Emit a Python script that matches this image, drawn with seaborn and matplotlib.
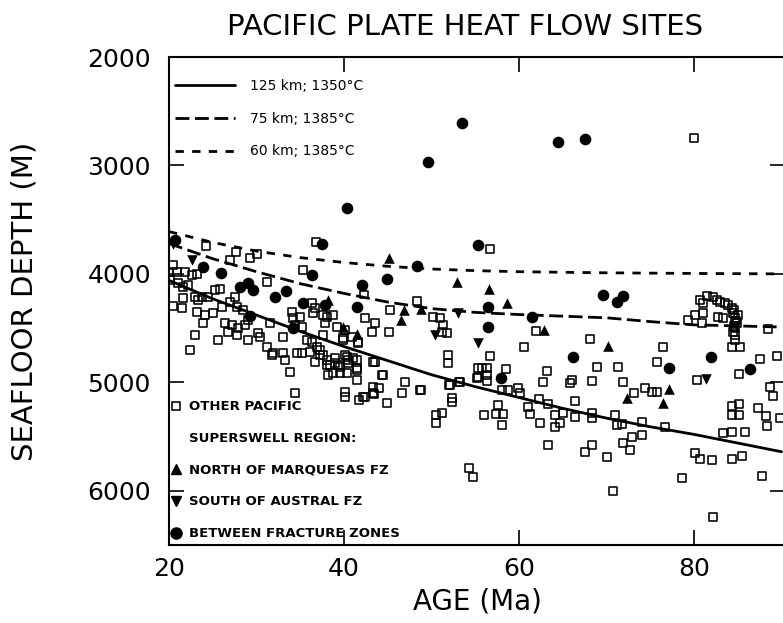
import numpy as np
import pandas as pd
import matplotlib
matplotlib.use("Agg")
import matplotlib.pyplot as plt
from matplotlib.lines import Line2D
import seaborn as sns

# ==========================================
# DATA (age in Ma, depth in m)
# ==========================================

curve_age = [20, 25, 30, 35, 40, 45, 50, 55, 60, 65, 70, 75, 80, 85, 90]
depth_125km = [4060, 4230, 4380, 4530, 4670, 4800, 4930, 5040, 5140, 5240, 5330, 5410, 5480, 5560, 5640]
depth_75km = [3720, 3860, 3980, 4090, 4180, 4260, 4320, 4355, 4375, 4390, 4405, 4440, 4470, 4480, 4490]
depth_60km = [3610, 3710, 3790, 3850, 3895, 3930, 3955, 3970, 3980, 3985, 3990, 3993, 3996, 3998, 4000]

curve_labels = ["125 km; 1350°C", "75 km; 1385°C", "60 km; 1385°C"]

other_young = [
    (80.0, 2750), (56.7, 3770),
    (24.2, 3740), (27.7, 3800), (27.0, 3870), (29.3, 3850), (30.1, 3815), (36.8, 3705), (35.3, 3965),
    (31.2, 4075), (42.3, 4190),
    (20.5, 3920), (20.0, 3980), (20.9, 3980), (21.8, 3980), (22.6, 4010), (23.2, 4000),
    (20.1, 4055), (21.0, 4085), (21.6, 4120), (22.2, 4100), (25.3, 4150), (25.8, 4140),
    (20.5, 4295), (21.5, 4315), (21.6, 4220), (23.0, 4215), (23.3, 4240), (23.8, 4215), (24.5, 4215),
    (23.2, 4350), (24.1, 4380), (25.0, 4360), (23.9, 4450), (23.0, 4565), (22.4, 4700), (25.6, 4610),
    (26.1, 4305), (27.0, 4260), (27.5, 4215), (27.8, 4305),
    (26.4, 4450), (27.2, 4470), (27.9, 4500), (28.7, 4470), (29.0, 4425), (28.5, 4330),
    (26.7, 4535), (27.8, 4565),
    (29.0, 4610), (30.2, 4545), (30.4, 4580), (31.2, 4675), (31.9, 4730), (31.8, 4750), (33.0, 4730),
    (33.3, 4795), (33.8, 4905), (34.4, 5100),
    (31.5, 4450), (33.0, 4580),
    (34.1, 4350), (34.2, 4405), (35.0, 4395), (34.4, 4470), (35.2, 4490),
    (34.6, 4730), (35.2, 4730), (36.1, 4720),
]

other_middle = [
    (35.8, 4610), (36.3, 4625), (36.9, 4675), (37.3, 4700), (37.6, 4750), (36.7, 4810), (38.1, 4795),
    (38.4, 4840), (39.0, 4820), (38.7, 4915), (39.5, 4860), (40.3, 4765), (41.0, 4775), (41.6, 4625),
    (39.9, 4610), (40.5, 4795), (41.5, 4865),
    (36.3, 4270), (36.7, 4315), (36.5, 4360), (37.6, 4380), (38.1, 4395), (38.7, 4380), (37.8, 4450),
    (39.2, 4490), (37.6, 4565),
    (40.1, 4515), (39.9, 4590), (40.9, 4580), (41.6, 4635),
    (42.4, 4405), (43.5, 4450), (43.2, 4535), (45.1, 4535), (45.3, 4330),
    (43.3, 4810), (44.3, 4930), (43.3, 5040), (47.0, 4995),
    (48.3, 4250), (50.2, 4395), (51.0, 4405), (51.3, 4470), (51.2, 4535), (51.8, 4545),
    (51.9, 4745), (51.9, 4820), (55.2, 4960), (55.3, 4865), (53.3, 4995), (52.1, 5025), (52.3, 5145),
    (48.7, 5070),
    (40.1, 5090), (42.2, 5135), (43.3, 5100),
    (37.3, 4745), (38.1, 4840), (38.2, 4930), (39.0, 4775), (39.3, 4840), (39.5, 4915), (40.3, 4915),
    (40.1, 4745), (40.5, 4820), (41.5, 4795), (41.5, 4885), (41.5, 4980), (40.1, 5135),
    (43.5, 4810), (44.5, 4930), (44.0, 5050), (43.4, 5105), (42.4, 5135), (41.7, 5160), (44.9, 5190),
    (46.6, 5100), (48.8, 5070),
    (52.0, 5025), (53.1, 4995), (52.3, 5180), (51.2, 5280), (50.5, 5300), (50.5, 5375),
    (54.7, 5870), (54.3, 5790),
]

other_old = [
    (56.7, 4755), (55.8, 4865), (56.3, 4865), (56.3, 4930), (55.3, 4950), (56.3, 4985), (58.5, 4875),
    (58.1, 5070), (58.7, 5070), (59.9, 5050), (60.1, 5100),
    (57.6, 5210), (57.4, 5290), (58.2, 5290), (58.1, 5390), (56.0, 5300),
    (61.9, 4525), (60.6, 4675), (68.1, 4600), (76.5, 4675), (75.8, 4810),
    (61.0, 5225), (61.3, 5290), (62.3, 5155), (63.3, 5200), (63.2, 4895), (62.7, 4995),
    (62.4, 5375), (63.3, 5575), (64.1, 5300), (64.7, 5375), (64.1, 5410), (65.0, 5280),
    (65.8, 5005), (66.1, 4980), (66.4, 5170), (66.4, 5320), (68.3, 4985), (68.3, 5280), (68.3, 5330),
    (68.9, 4860), (71.3, 4860), (71.9, 4995), (71.0, 5300), (71.2, 5390), (71.8, 5385), (71.9, 5560),
    (72.9, 5505), (74.1, 5485), (72.7, 5625), (70.1, 5685), (70.7, 6000), (67.5, 5640), (68.3, 5575),
    (74.1, 5365),
    (73.1, 5100), (74.4, 5050), (75.2, 5090), (75.8, 5090),
    (76.7, 5410), (78.6, 5880),
    (80.1, 5650), (80.7, 5705), (82.1, 5715), (84.3, 5705), (85.5, 5680), (82.2, 6240),
    (80.3, 4980),
    (84.3, 5215), (85.1, 5200), (84.3, 5300), (85.1, 5300), (83.3, 5465), (84.3, 5455), (85.8, 5455),
    (85.1, 4920), (87.5, 4785), (89.5, 4755),
    (88.7, 5040), (89.0, 5125), (87.3, 5235), (88.2, 5310), (88.3, 5400), (89.8, 5330), (87.8, 5860),
    (80.7, 4240), (81.5, 4205), (82.2, 4215), (82.6, 4240), (83.0, 4260), (83.5, 4270), (83.9, 4285),
    (84.3, 4315), (84.5, 4360), (84.7, 4405), (84.9, 4450), (84.7, 4500), (84.5, 4535), (84.7, 4565),
    (84.7, 4610), (84.6, 4330), (85.0, 4380), (84.8, 4430), (84.6, 4480),
    (81.0, 4270), (81.0, 4360), (80.1, 4380), (79.3, 4425), (80.9, 4450), (82.7, 4395), (83.3, 4405),
    (88.5, 4505), (84.3, 4675), (85.3, 4675),
]

north_marquesas = [
    (45.1, 3855), (52.9, 4075), (38.2, 4240), (46.9, 4335), (48.8, 4325), (46.5, 4425), (39.9, 4490),
    (41.5, 4555), (56.6, 4140), (58.6, 4270), (62.9, 4515), (70.2, 4665), (72.3, 5145), (77.1, 5060),
    (76.5, 5190),
]

south_austral = [
    (20.4, 3720), (22.6, 3870), (53.0, 4360), (50.4, 4565), (55.3, 4640), (81.4, 4970),
]

between_fz = [
    (20.7, 3690), (23.9, 3935), (25.9, 3990), (28.1, 4120), (29.0, 4085), (29.6, 4150), (29.3, 4390),
    (32.1, 4215), (33.4, 4160), (35.3, 4270), (34.2, 4500), (36.3, 4010), (37.5, 3725), (40.3, 3390),
    (49.6, 2970), (53.5, 2610), (64.5, 2785), (67.5, 2755), (55.3, 3735), (48.3, 3925), (44.9, 4045),
    (42.1, 4100), (41.5, 4305), (37.8, 4290), (56.5, 4305), (56.5, 4490), (61.5, 4395), (69.6, 4195),
    (71.2, 4260), (71.9, 4205), (66.2, 4765), (57.9, 4960), (77.1, 4865), (81.9, 4765), (86.4, 4875),
]

# ==========================================
# FRAMES
# ==========================================

curves = pd.DataFrame({
    "age": curve_age * 3,
    "depth": depth_125km + depth_75km + depth_60km,
    "model": [curve_labels[0]] * 15 + [curve_labels[1]] * 15 + [curve_labels[2]] * 15,
})

other = pd.DataFrame(other_young + other_middle + other_old, columns=["age", "depth"])
north = pd.DataFrame(north_marquesas, columns=["age", "depth"])
south = pd.DataFrame(south_austral, columns=["age", "depth"])
between = pd.DataFrame(between_fz, columns=["age", "depth"])

# ==========================================
# PLOT
# ==========================================

sns.set_theme(style="ticks")
plt.rcParams["font.family"] = ["DejaVu Sans"]
plt.rcParams["text.color"] = "black"
plt.rcParams["axes.labelcolor"] = "black"

fig = plt.figure(figsize=(7.83, 6.23), dpi=100)
ax = fig.add_axes([169 / 783, 78 / 623, 616 / 783, 488 / 623])

dash_map = {
    curve_labels[0]: "",
    curve_labels[1]: (5, 2),
    curve_labels[2]: (3, 3),
}

sns.lineplot(
    data=curves, x="age", y="depth", style="model",
    dashes=dash_map, color="black", linewidth=2.0,
    legend=False, ax=ax
)

sns.scatterplot(
    data=other, x="age", y="depth", marker="s", s=32,
    facecolors="none", edgecolor="black", linewidth=1.15, ax=ax, legend=False
)
sns.scatterplot(
    data=north, x="age", y="depth", marker="^", s=58,
    color="black", edgecolor="black", linewidth=0, ax=ax, legend=False
)
sns.scatterplot(
    data=south, x="age", y="depth", marker="v", s=58,
    color="black", edgecolor="black", linewidth=0, ax=ax, legend=False
)
sns.scatterplot(
    data=between, x="age", y="depth", marker="o", s=70,
    color="black", edgecolor="black", linewidth=0, ax=ax, legend=False
)

ax.set_xlim(20, 20 + 616 / 8.75)
ax.set_ylim(6500, 2000)
ax.set_xticks([20, 40, 60, 80])
ax.set_yticks([2000, 3000, 4000, 5000, 6000])

for s in ax.spines.values():
    s.set_linewidth(1.5)
    s.set_color("black")

ax.tick_params(axis="both", direction="in", length=11, width=1.2,
               top=True, right=True, labelsize=18, colors="black")
ax.tick_params(axis="x", pad=9)
ax.tick_params(axis="y", pad=13)

ax.set_xlabel("AGE (Ma)", fontsize=20, labelpad=4)
ax.set_ylabel("SEAFLOOR DEPTH (M)", fontsize=21, labelpad=35)

fig.text(465 / 783, 1 - 35 / 623, "PACIFIC PLATE HEAT FLOW SITES",
         ha="center", va="baseline", fontsize=21)

# ==========================================
# LEGENDS
# ==========================================

line_handles = [
    Line2D([], [], color="black", lw=2.0, linestyle="-"),
    Line2D([], [], color="black", lw=2.0, linestyle=(0, (5, 2))),
    Line2D([], [], color="black", lw=2.0, linestyle=(0, (3, 3))),
]
leg1 = ax.legend(
    line_handles, curve_labels, loc="upper left",
    bbox_to_anchor=(0.01, 0.955), frameon=False, fontsize=10,
    handlelength=4.3, handletextpad=1.1, labelspacing=1.35,
    borderpad=0, borderaxespad=0
)
ax.add_artist(leg1)

symbol_handles = [
    Line2D([], [], marker="s", ls="", markersize=5.4, mfc="none", mec="black", mew=1.15),
    Line2D([], [], ls=""),
    Line2D([], [], marker="^", ls="", markersize=7.5, color="black"),
    Line2D([], [], marker="v", ls="", markersize=7.5, color="black"),
    Line2D([], [], marker="o", ls="", markersize=8, color="black"),
]
symbol_labels = [
    "OTHER PACIFIC",
    "SUPERSWELL REGION:",
    "NORTH OF MARQUESAS FZ",
    "SOUTH OF AUSTRAL FZ",
    "BETWEEN FRACTURE ZONES",
]
leg2 = ax.legend(
    symbol_handles, symbol_labels, loc="lower left",
    bbox_to_anchor=(0.0, 0.01), frameon=False,
    prop={"size": 9.5, "weight": "semibold"},
    handlelength=1.0, handletextpad=0.5, labelspacing=1.42,
    borderpad=0, borderaxespad=0
)

fig.savefig("out.png", dpi=100)
